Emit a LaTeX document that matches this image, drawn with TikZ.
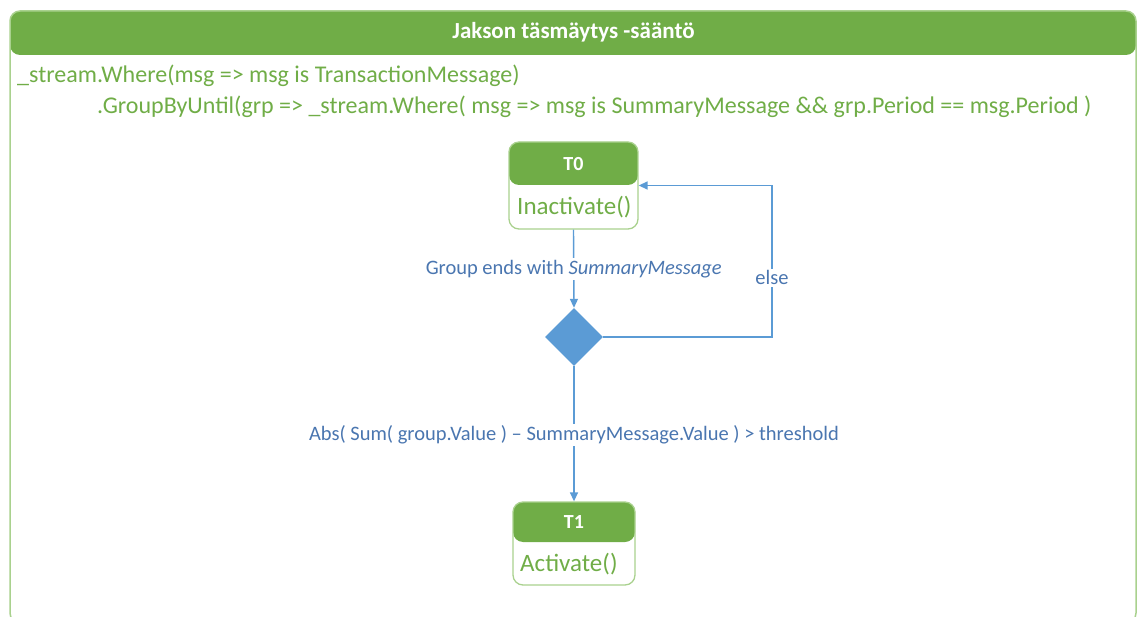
\documentclass[tikz,border=0pt]{standalone}
\usepackage{fontspec}
\setmainfont{Carlito}
\usetikzlibrary{arrows.meta,shapes.geometric}
\definecolor{hdrgreen}{HTML}{70AD47}
\definecolor{edgegreen}{HTML}{A9D18E}
\definecolor{codegreen}{HTML}{70AD47}
\definecolor{flowblue}{HTML}{5B9BD5}
\definecolor{labelblue}{HTML}{4A76B0}
\begin{document}
\begin{tikzpicture}[x=1pt,y=-1pt,
  hdr/.style={path picture={\fill[hdrgreen] (path picture bounding box.north west) rectangle ([yshift=-#1]path picture bounding box.north east);}},
  statebox/.style={draw=edgegreen, line width=1.3pt, rounded corners=10pt, inner sep=0pt},
  statetitle/.style={text=white, font=\fontsize{20}{22}\selectfont\bfseries, inner sep=0pt},
  statebody/.style={text=codegreen, font=\fontsize{25}{28}\selectfont, inner sep=0pt, anchor=west},
  codeline/.style={text=codegreen, font=\fontsize{24}{28}\selectfont, inner sep=0pt, anchor=west},
  flow/.style={draw=flowblue, line width=1.4pt, -{Triangle[length=9pt,width=8pt]}},
  lbl/.style={fill=white, text=labelblue, font=\fontsize{20.5}{24}\selectfont, inner sep=2pt},
  decision/.style={diamond, aspect=1, fill=flowblue, minimum size=58pt, inner sep=0pt}]
\useasboundingbox (0,0) rectangle (1137,617);
\clip (0,0) rectangle (1137,617);

% outer frame with green title bar
\node[statebox, line width=1.5pt, minimum width=1126pt, minimum height=612pt, hdr=44pt] (frame) at (573,317) {};
\node[statetitle, font=\fontsize{23}{26}\selectfont\bfseries] (title) at (573.5,32) {Jakson täsmäytys -sääntö};

% query text
\node[codeline] (code1) at (17,76) {\_stream.Where(msg => msg is TransactionMessage)};
\node[codeline] (code2) at (97,107) {.GroupByUntil(grp => \_stream.Where( msg => msg is SummaryMessage \&\& grp.Period == msg.Period )};

% states
\node[statebox, minimum width=129pt, minimum height=87pt, hdr=43pt] (t0) at (573.5,185.5) {};
\node[statetitle] (t0h) at (573.5,164) {T0};
\node[statebody] (t0b) at (517,207.5) {Inactivate()};

\node[statebox, minimum width=122pt, minimum height=83pt, hdr=40pt] (t1) at (574,543.5) {};
\node[statetitle] (t1h) at (574,522) {T1};
\node[statebody] (t1b) at (520,564) {Activate()};

% decision
\node[decision] (dec) at (574,337) {};

% transitions
\coordinate (loopA) at (772,337);
\coordinate (loopB) at (772,185.5);
\draw[flow] (t0.south) -- node[lbl] {Group ends with \textit{SummaryMessage}} (dec.north);
\draw[flow] (dec.east) -- (loopA) -- node[lbl, pos=0.39] {else} (loopB) -- (t0.east);
\draw[flow] (dec.south) -- node[lbl, pos=0.51] {Abs( Sum( group.Value ) – SummaryMessage.Value ) > threshold} (t1.north);
\end{tikzpicture}
\end{document}
